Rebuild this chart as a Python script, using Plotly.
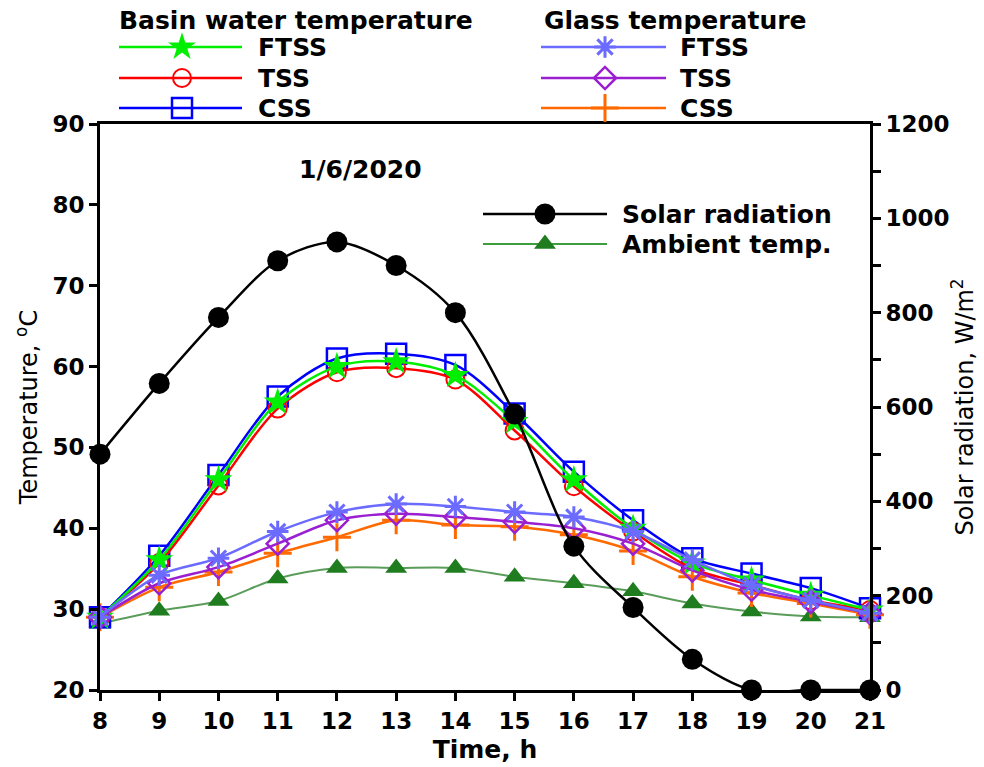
import plotly.graph_objects as go

# ---- data -------------------------------------------------------------
hours = list(range(8, 22))

solar_radiation = [500, 650, 790, 910, 950, 900, 800, 585, 305, 175, 65, 0, 0, 0]
ambient_temp = [28.2, 29.8, 31.0, 33.8, 35.1, 35.1, 35.1, 34.0, 33.2, 32.2, 30.7, 29.7, 29.1, 29.0]

basin_ftss = [29.0, 36.1, 46.0, 55.6, 60.0, 60.6, 58.9, 53.2, 46.0, 40.0, 35.7, 33.6, 31.7, 29.9]
basin_tss = [29.0, 35.7, 45.3, 54.8, 59.3, 59.8, 58.4, 52.1, 45.2, 39.6, 35.0, 33.0, 31.1, 29.9]
basin_css = [29.0, 36.6, 46.6, 56.3, 61.0, 61.6, 60.2, 54.2, 47.0, 41.0, 36.3, 34.4, 32.6, 30.1]

glass_ftss = [29.0, 34.2, 36.3, 39.6, 42.0, 43.0, 42.7, 42.0, 41.4, 39.6, 36.1, 33.0, 31.1, 29.5]
glass_tss = [29.0, 33.2, 35.2, 38.1, 41.0, 41.8, 41.4, 40.8, 40.0, 38.1, 34.8, 32.4, 30.9, 29.5]
glass_css = [29.0, 32.7, 34.6, 36.9, 38.9, 41.0, 40.4, 40.2, 39.2, 37.2, 34.0, 32.0, 30.7, 29.3]

temp_ticks = [20, 30, 40, 50, 60, 70, 80, 90]
solar_ticks = [0, 200, 400, 600, 800, 1000, 1200]

# ---- page geometry and styles ------------------------------------------
W, H = 984, 767
PLOT_LEFT, PLOT_RIGHT, PLOT_TOP, PLOT_BOTTOM = 100, 870, 124, 690
FONT = "DejaVu Sans"


def bold(size):
    return dict(family=FONT, size=size, color="black", weight="bold")


styles = {
    "solar": dict(color="black", symbol="circle", size=21, lw=0, width=2.5),
    "ambient": dict(color="#1f7d1f", symbol="triangle-up", size=19, lw=0, width=2,
                    line_color="#5a9c5a"),
    "b_css": dict(color="#0000ff", symbol="square-open", size=20, lw=2.5, width=2.5),
    "b_tss": dict(color="#ff0000", symbol="circle-open", size=18, lw=2, width=2.5),
    "b_ftss": dict(color="#00ee00", symbol="star", size=21, lw=0, width=2.5),
    "g_css": dict(color="#ff6a00", symbol="cross-thin-open", size=20, lw=3, width=2.5),
    "g_tss": dict(color="#9a1fd0", symbol="diamond-open", size=17, lw=2.5, width=2.5),
    "g_ftss": dict(color="#6b6bff", symbol="asterisk-open", size=18, lw=3, width=2.5),
}


def marker_of(s):
    return dict(symbol=s["symbol"], size=s["size"], color=s["color"],
                line=dict(color=s["color"], width=s["lw"]))


def line_color_of(s):
    return s.get("line_color", s["color"])


fig = go.Figure()


def add_series(y, key, name, yaxis="y"):
    s = styles[key]
    fig.add_trace(go.Scatter(
        x=hours, y=y, name=name, mode="lines+markers", xaxis="x", yaxis=yaxis,
        line=dict(color=line_color_of(s), width=s["width"], shape="spline", smoothing=0.9),
        marker=marker_of(s), cliponaxis=False, showlegend=False,
    ))


add_series(solar_radiation, "solar", "Solar radiation", yaxis="y2")
add_series(ambient_temp, "ambient", "Ambient temp.")
add_series(basin_css, "b_css", "Basin CSS")
add_series(basin_tss, "b_tss", "Basin TSS")
add_series(basin_ftss, "b_ftss", "Basin FTSS")
add_series(glass_css, "g_css", "Glass CSS")
add_series(glass_tss, "g_tss", "Glass TSS")
add_series(glass_ftss, "g_ftss", "Glass FTSS")

# ---- legend keys: a hidden full-page subplot measured in page pixels ---
shapes = []
annotations = []


def page_text(x, y, text, size=25, anchor="left"):
    annotations.append(dict(xref="x3", yref="y3", x=x, y=y, xanchor=anchor,
                            yanchor="middle", showarrow=False, text=text,
                            font=bold(size)))


def legend_key(key, x0, x1, xm, y, label, text_x, line_color=None):
    s = styles[key]
    shapes.append(dict(type="line", xref="x3", yref="y3", layer="below",
                       x0=x0, x1=x1, y0=y, y1=y,
                       line=dict(color=line_color or line_color_of(s), width=s["width"])))
    fig.add_trace(go.Scatter(x=[xm], y=[y], mode="markers", xaxis="x3", yaxis="y3",
                             marker=marker_of(s), cliponaxis=False, showlegend=False,
                             hoverinfo="skip"))
    page_text(text_x, y, label)


rows = [47, 78, 108]
page_text(117, 20, "Basin water temperature")
page_text(542, 20, "Glass temperature")
for key, lab, yy in zip(["b_ftss", "b_tss", "b_css"], ["FTSS", "TSS", "CSS"], rows):
    legend_key(key, 119, 242, 182, yy, lab, 256)
for key, lab, yy in zip(["g_ftss", "g_tss", "g_css"], ["FTSS", "TSS", "CSS"], rows):
    legend_key(key, 541, 666, 605, yy, lab, 678)
legend_key("solar", 483, 607, 545, 214, "Solar radiation", 620)
legend_key("ambient", 483, 607, 545, 244, "Ambient temp.", 620, line_color="#3d9e3d")
page_text(360, 169, "1/6/2020", anchor="center")

axis_common = dict(showline=True, linewidth=3, linecolor="black", ticks="outside",
                   ticklen=8, tickwidth=2.5, tickcolor="black", showgrid=False,
                   zeroline=False, tickfont=bold(23), automargin=False)

x_domain = [PLOT_LEFT / W, PLOT_RIGHT / W]
y_domain = [(H - PLOT_BOTTOM) / H, (H - PLOT_TOP) / H]

fig.update_layout(
    width=W, height=H, margin=dict(l=0, r=0, t=0, b=0, autoexpand=False),
    paper_bgcolor="white", plot_bgcolor="rgba(0,0,0,0)",
    showlegend=False,
    xaxis=dict(domain=x_domain, anchor="y", range=[8, 21], tickvals=hours, mirror=True,
               **axis_common,
               title=dict(text="Time, h", font=bold(25), standoff=8)),
    yaxis=dict(domain=y_domain, anchor="x", range=[20, 90], tickvals=temp_ticks,
               **axis_common,
               title=dict(text="Temperature, <sup>o</sup>C",
                          font=dict(family=FONT, size=24, color="black"), standoff=8)),
    yaxis2=dict(domain=y_domain, anchor="x", range=[0, 1200], tickvals=solar_ticks,
                overlaying="y", side="right",
                minor=dict(dtick=100, ticks="outside", ticklen=8, tickwidth=2.5,
                           tickcolor="black"),
                **axis_common,
                title=dict(text="Solar radiation, W/m<sup>2</sup>",
                           font=dict(family=FONT, size=24, color="black"), standoff=8)),
    xaxis3=dict(domain=[0, 1], anchor="y3", range=[0, W], visible=False, fixedrange=True),
    yaxis3=dict(domain=[0, 1], anchor="x3", range=[H, 0], visible=False, fixedrange=True),
    shapes=shapes,
    annotations=annotations,
)

fig.write_html("out.html")
